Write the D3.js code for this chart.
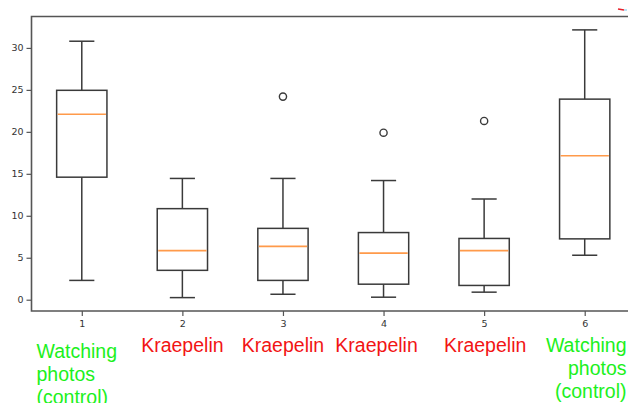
<!DOCTYPE html>
<html>
<head>
<meta charset="utf-8">
<script src="https://cdn.jsdelivr.net/npm/d3@7"></script>
<style>
  html, body { margin: 0; padding: 0; background: #fff; }
  svg { display: block; }
</style>
</head>
<body>
<svg id="chart" width="628" height="403"></svg>
<script>
// Five-number summaries for each group (whisker low, Q1, median, Q3, whisker high)
const positions   = [1, 2, 3, 4, 5, 6];
const whiskerLow  = [2.3, 0.25, 0.65, 0.3, 0.9, 5.3];
const q1          = [14.6, 3.5, 2.3, 1.85, 1.7, 7.25];
const medians     = [22.1, 5.85, 6.35, 5.55, 5.85, 17.15];
const q3          = [24.95, 10.85, 8.5, 8.0, 7.3, 23.9];
const whiskerHigh = [30.8, 14.45, 14.45, 14.2, 12.0, 32.15];
const outliers    = [[], [], [24.2], [19.9], [21.3], []];
const yTicks      = [0, 5, 10, 15, 20, 25, 30];

// Group captions under the axis
const groupLabels = [
  { pos: 1, lines: ["Watching", "photos", "(control)"], kind: "control", anchor: "start", dx: 0 },
  { pos: 2, lines: ["Kraepelin"], kind: "task", anchor: "middle", dx: 0 },
  { pos: 3, lines: ["Kraepelin"], kind: "task", anchor: "middle", dx: 0 },
  { pos: 4, lines: ["Kraepelin"], kind: "task", anchor: "middle", dx: -7 },
  { pos: 5, lines: ["Kraepelin"], kind: "task", anchor: "middle", dx: 1 },
  { pos: 6, lines: ["Watching", "photos", "(control)"], kind: "control", anchor: "end", dx: 0 }
];

const svg = d3.select("#chart");
const plot = { left: 31.5, right: 635, top: 16.5, bottom: 311 };

// y domain padded by 5% of the data range
const lo = d3.min([...whiskerLow, ...outliers.flat()]);
const hi = d3.max([...whiskerHigh, ...outliers.flat()]);
const pad = (hi - lo) * 0.05;
const y = d3.scaleLinear().domain([lo - pad, hi + pad]).range([plot.bottom, plot.top]);
const x = d3.scaleLinear().domain([0.5, 6.5]).range([plot.left, plot.right]);

const boxHalf = x(1.25) - x(1);
const capHalf = boxHalf / 2;
const ink = "#3a3a3a";

// Axes
const yAxis = d3.axisLeft(y).tickValues(yTicks).tickSize(5).tickPadding(3).tickSizeOuter(0);
const gy = svg.append("g").attr("transform", `translate(${plot.left},0)`).call(yAxis);
const xAxis = d3.axisBottom(x).tickValues(positions).tickFormat(d3.format("d"))
  .tickSize(5).tickPadding(4).tickSizeOuter(0);
const gx = svg.append("g").attr("transform", `translate(0,${plot.bottom})`).call(xAxis);
[gy, gx].forEach(g => {
  g.select(".domain").remove();
  g.selectAll(".tick line").attr("stroke", "#555").attr("stroke-width", 1.2);
  g.selectAll(".tick text")
    .attr("fill", "#333")
    .style("font-family", "DejaVu Sans, sans-serif")
    .style("font-size", "9.5px");
});

// Frame (left, top, bottom spines)
svg.append("path")
  .attr("d", `M${plot.right},${plot.top}H${plot.left}V${plot.bottom}H${plot.right}`)
  .attr("fill", "none").attr("stroke", "#555").attr("stroke-width", 1.6);

// Boxes
const boxes = svg.append("g").selectAll("g").data(positions).join("g");
boxes.append("line")
  .attr("x1", d => x(d)).attr("x2", d => x(d))
  .attr("y1", (d, i) => y(whiskerLow[i])).attr("y2", (d, i) => y(q1[i]))
  .attr("stroke", ink).attr("stroke-width", 1.5);
boxes.append("line")
  .attr("x1", d => x(d)).attr("x2", d => x(d))
  .attr("y1", (d, i) => y(q3[i])).attr("y2", (d, i) => y(whiskerHigh[i]))
  .attr("stroke", ink).attr("stroke-width", 1.5);
boxes.append("line")
  .attr("x1", d => x(d) - capHalf).attr("x2", d => x(d) + capHalf)
  .attr("y1", (d, i) => y(whiskerLow[i])).attr("y2", (d, i) => y(whiskerLow[i]))
  .attr("stroke", ink).attr("stroke-width", 1.5);
boxes.append("line")
  .attr("x1", d => x(d) - capHalf).attr("x2", d => x(d) + capHalf)
  .attr("y1", (d, i) => y(whiskerHigh[i])).attr("y2", (d, i) => y(whiskerHigh[i]))
  .attr("stroke", ink).attr("stroke-width", 1.5);
boxes.append("rect")
  .attr("x", d => x(d) - boxHalf).attr("width", boxHalf * 2)
  .attr("y", (d, i) => y(q3[i])).attr("height", (d, i) => y(q1[i]) - y(q3[i]))
  .attr("fill", "none").attr("stroke", ink).attr("stroke-width", 1.5);
boxes.append("line")
  .attr("x1", d => x(d) - boxHalf + 1).attr("x2", d => x(d) + boxHalf - 1)
  .attr("y1", (d, i) => y(medians[i])).attr("y2", (d, i) => y(medians[i]))
  .attr("stroke", "#ff9a4a").attr("stroke-width", 1.6);
boxes.selectAll("circle")
  .data((d, i) => outliers[i].map(v => ({ p: d, v })))
  .join("circle")
  .attr("cx", o => x(o.p)).attr("cy", o => y(o.v)).attr("r", 3.6)
  .attr("fill", "none").attr("stroke", ink).attr("stroke-width", 1.4);

// Group captions
const colors = { control: "#1cf01c", task: "#f21414" };
const captionTop = { control: [357.5, 351.5], task: 351.5 };
groupLabels.forEach(g => {
  const anchorX = g.anchor === "start" ? 36.5 : g.anchor === "end" ? 626.5 : x(g.pos) + g.dx;
  const base = g.kind === "task" ? captionTop.task : (g.pos === 1 ? captionTop.control[0] : captionTop.control[1]);
  const t = svg.append("text")
    .attr("text-anchor", g.anchor)
    .attr("fill", colors[g.kind])
    .style("font-family", "Liberation Sans, Arial, sans-serif")
    .style("font-size", "19.5px");
  g.lines.forEach((line, k) => {
    t.append("tspan").attr("x", anchorX).attr("y", base + k * 23.3).text(line);
  });
});

// small red mark in the top-right corner
svg.append("line").attr("x1", 618).attr("x2", 624).attr("y1", 9).attr("y2", 10)
  .attr("stroke", "#e8202a").attr("stroke-width", 1.5);
svg.append("line").attr("x1", 624).attr("x2", 627).attr("y1", 10).attr("y2", 10)
  .attr("stroke", "#8ad0f0").attr("stroke-width", 1.2);
</script>
</body>
</html>
